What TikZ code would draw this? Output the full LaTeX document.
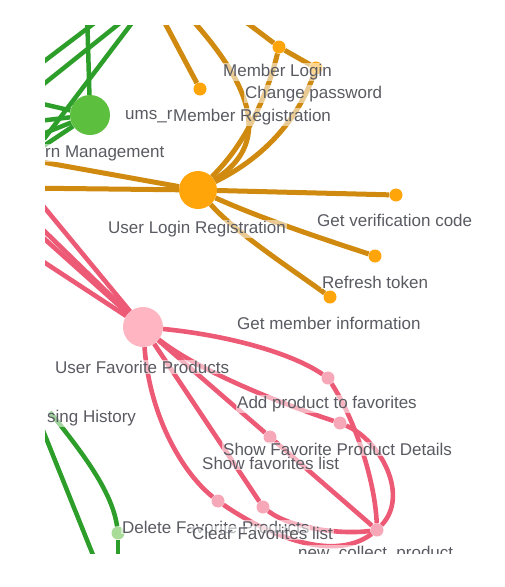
\documentclass[tikz,border=0pt]{standalone}
\usepackage{fontspec}
\setmainfont{Liberation Sans}
\usetikzlibrary{arrows.meta}
\usetikzlibrary{positioning}

\definecolor{orangeline}{HTML}{D08A10}
\definecolor{orangefill}{HTML}{FFA50A}
\definecolor{greenline}{HTML}{2E9E2A}
\definecolor{greenfill}{HTML}{5CBF3E}
\definecolor{greenleaf}{HTML}{A8DC98}
\definecolor{pinkline}{HTML}{EC5A76}
\definecolor{pinkfill}{HTML}{FFB5C2}
\definecolor{pinkleaf}{HTML}{F6A8B8}
\definecolor{textgray}{HTML}{5A5B62}

\begin{document}
\begin{tikzpicture}[
    x=1pt, y=-1pt,
    every node/.style={font=\fontsize{17}{20}\selectfont},
    hubnode/.style={circle, inner sep=0pt, minimum size=#1},
    hubnode/.default=40pt,
    leafnode/.style={circle, inner sep=0pt, minimum size=13pt},
    olink/.style={draw=orangeline, line width=5pt},
    glink/.style={draw=greenline, line width=4.5pt},
    plink/.style={draw=pinkline, line width=4.6pt},
    lbl/.style={anchor=west, text=textgray, fill=white, fill opacity=0.55, text opacity=1, inner sep=1pt}
]
\useasboundingbox (0,0) rectangle (505,587);
\begin{scope}
\clip (45,25) rectangle (480,553);

% Nodes
\node[hubnode, fill=greenfill] (gbm) at (90,115) {};
\node[hubnode=38pt, fill=orangefill] (ulr) at (198,190) {};
\node[leafnode, fill=orangefill] (mreg) at (200,89) {};
\node[leafnode, fill=orangefill] (mlog) at (279,47) {};
\node[leafnode, fill=orangefill] (cpw) at (316,68) {};
\node[leafnode, fill=orangefill] (gvc) at (396,195) {};
\node[leafnode, fill=orangefill] (rft) at (375,256) {};
\node[leafnode, fill=orangefill] (gmi) at (330,297) {};
\node[hubnode, fill=pinkfill] (ufp) at (143,327) {};
\node[leafnode, fill=pinkleaf] (apf) at (328,378) {};
\node[leafnode, fill=pinkleaf] (sfd) at (340,423) {};
\node[leafnode, fill=pinkleaf] (sfl) at (270,437) {};
\node[leafnode, fill=pinkleaf] (dfp) at (218,501) {};
\node[leafnode, fill=pinkleaf] (cfl) at (263,507) {};
\node[leafnode, fill=pinkleaf] (ncp) at (377,530) {};
\node[leafnode, fill=greenleaf] (bh) at (118,533) {};

% Free ends
\coordinate (oa) at (158,10);
\coordinate (ob) at (183,10);
\coordinate (oc) at (230,10);
\coordinate (od) at (20,158);
\coordinate (oe) at (20,188);
\coordinate (pa) at (30,190);
\coordinate (pb) at (30,217);
\coordinate (pc) at (30,226);
\coordinate (pd) at (30,253);
\coordinate (ga) at (87,10);
\coordinate (gl1) at (30,101);
\coordinate (gl2) at (30,122);
\coordinate (gl3) at (30,139);
\coordinate (gl4) at (30,155);
\coordinate (gd1) at (30,72);
\coordinate (gd2) at (105,15);
\coordinate (gd3) at (30,95);
\coordinate (gd4) at (130,15);
\coordinate (gd5) at (44,139);
\coordinate (gd6) at (138,15);
\coordinate (gh1) at (38,418);
\coordinate (gh2) at (97,565);
\coordinate (gh3) at (50,412);
\coordinate (gh4) at (118,565);

% Edges
\draw[glink] (ga) -- (gbm);
\draw[glink] (gl1) -- (gbm);
\draw[glink] (gl2) -- (gbm);
\draw[glink] (gl3) -- (gbm);
\draw[glink] (gl4) -- (gbm);
\draw[glink] (gd1) -- (gd2);
\draw[glink] (gd3) -- (gd4);
\draw[glink] (gd5) -- (gd6);
\draw[glink] (gh1) -- (gh2);
\draw[glink] (gh3) .. controls (80,450) and (112,490) .. (bh);
\draw[glink] (bh) -- (gh4);

\draw[olink] (oa) -- (mreg);
\draw[olink] (ob) .. controls (268,100) and (262,150) .. (ulr);
\draw[olink] (oc) -- (mlog);
\draw[olink] (mlog) -- (cpw);
\draw[olink] (mlog) .. controls (270,85) and (250,140) .. (ulr);
\draw[olink] (cpw) .. controls (305,100) and (280,150) .. (ulr);
\draw[olink] (od) -- (ulr);
\draw[olink] (oe) -- (ulr);
\draw[olink] (ulr) -- (gvc);
\draw[olink] (ulr) .. controls (260,218) and (320,238) .. (rft);
\draw[olink] (ulr) .. controls (235,232) and (290,268) .. (gmi);

\draw[plink] (pa) -- (ufp);
\draw[plink] (pb) -- (ufp);
\draw[plink] (pc) -- (ufp);
\draw[plink] (pd) -- (ufp);
\draw[plink] (ufp) .. controls (225,335) and (290,352) .. (apf);
\draw[plink] (ufp) .. controls (200,372) and (285,405) .. (sfd);
\draw[plink] (ufp) -- (sfl);
\draw[plink] (ufp) .. controls (150,420) and (185,475) .. (dfp);
\draw[plink] (ufp) -- (cfl);
\draw[plink] (apf) .. controls (355,420) and (375,480) .. (ncp);
\draw[plink] (sfd) .. controls (380,440) and (410,495) .. (ncp);
\draw[plink] (sfl) -- (ncp);
\draw[plink] (dfp) .. controls (260,530) and (330,565) .. (ncp);
\draw[plink] (cfl) .. controls (290,528) and (340,535) .. (ncp);

% Labels
\node[lbl] (lums) at (124,117) {ums\_r};
\node[lbl] (lmreg) at (172,117) {Member Registration};
\node[lbl] (lmlog) at (222,72) {Member Login};
\node[lbl] (lcpw) at (244,94) {Change password};
\node[lbl] (lrm) at (44,153) {rn Management};
\node[lbl] (lulr) at (107,229) {User Login Registration};
\node[lbl] (lgvc) at (316,220) {Get verification code};
\node[lbl] (lrft) at (321,282) {Refresh token};
\node[lbl] (lgmi) at (236,323) {Get member information};
\node[lbl] (lufp) at (54,367) {User Favorite Products};
\node[lbl] (lapf) at (236,404) {Add product to favorites};
\node[lbl] (lsfd) at (222,449) {Show Favorite Product Details};
\node[lbl] (lsfl) at (201,463) {Show favorites list};
\node[lbl] (lbh) at (46,418) {sing History};
\node[lbl] (ldfp) at (121,527) {Delete Favorite Products};
\node[lbl] (lcfl) at (191,533) {Clear Favorites list};
\node[lbl, anchor=base west] (lncp) at (297,558) {new\_collect\_product};

\end{scope}
\end{tikzpicture}
\end{document}
